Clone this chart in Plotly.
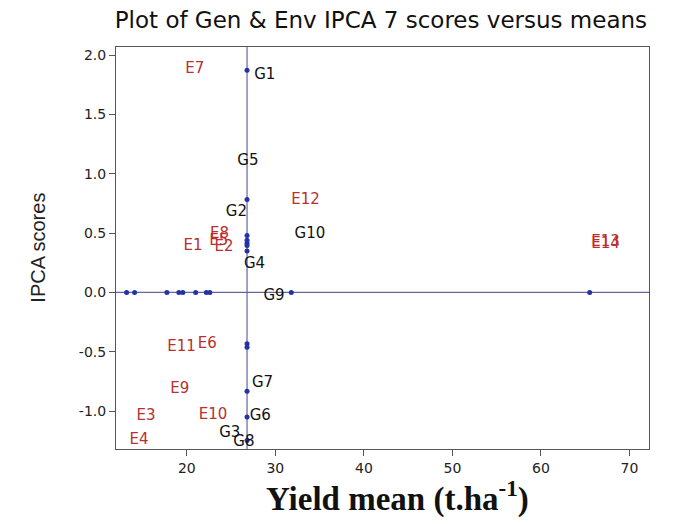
import plotly.graph_objects as go

# ---- data ----
grand_mean = 26.8

# dots on the vertical (grand mean) line: IPCA scores
vline_scores = [1.873, 0.785, 0.48, 0.44, 0.415, 0.397, 0.35, -0.433, -0.462, -0.833, -1.05, -1.249]
# dots on the horizontal (zero) line: yield means
hline_means = [13.2, 14.1, 17.75, 19.1, 19.55, 21.0, 22.2, 22.6, 31.8, 65.5]

gen_labels = ["G1", "G5", "G2", "G10", "G4", "G9", "G7", "G6", "G3", "G8"]
gen_x = [28.8, 26.9, 25.6, 33.9, 27.65, 29.85, 28.55, 28.3, 24.85, 26.45]
gen_y = [1.83, 1.108, 0.68, 0.49, 0.24, -0.034, -0.765, -1.046, -1.187, -1.26]

env_labels = ["E7", "E12", "E8", "E5", "E1", "E2", "E13", "E14", "E11", "E6", "E9", "E3", "E10", "E4"]
env_x = [20.9, 33.4, 23.7, 23.6, 20.7, 24.2, 67.3, 67.3, 19.4, 22.3, 19.2, 15.4, 22.95, 14.6]
env_y = [1.879, 0.78, 0.49, 0.433, 0.39, 0.384, 0.425, 0.405, -0.46, -0.433, -0.82, -1.046, -1.038, -1.249]

x_ticks = [20, 30, 40, 50, 60, 70]
x_ticktext = ["20", "30", "40", "50", "60", "70"]
y_ticks = [-1.0, -0.5, 0.0, 0.5, 1.0, 1.5, 2.0]
y_ticktext = ["-1.0", "-0.5", "0.0", "0.5", "1.0", "1.5", "2.0"]

title_text = "Plot of Gen & Env IPCA 7 scores versus means"
x_title = "Yield mean (t.ha<sup>-1</sup>)"
y_title = "IPCA scores"

# ---- figure ----
dot_color = "#2432a8"
line_color = "#6466a0"
env_color = "#b83030"

fig = go.Figure()

fig.add_trace(go.Scatter(
    x=[grand_mean] * len(vline_scores), y=vline_scores, mode="markers",
    marker=dict(color=dot_color, size=5), hoverinfo="skip", showlegend=False))
fig.add_trace(go.Scatter(
    x=hline_means, y=[0] * len(hline_means), mode="markers",
    marker=dict(color=dot_color, size=5), hoverinfo="skip", showlegend=False))

fig.add_trace(go.Scatter(
    x=gen_x, y=gen_y, mode="text", text=gen_labels,
    textfont=dict(family="DejaVu Sans", size=15, color="#111111"),
    showlegend=False))
fig.add_trace(go.Scatter(
    x=env_x, y=env_y, mode="text", text=env_labels,
    textfont=dict(family="DejaVu Sans", size=15, color=env_color),
    showlegend=False))

fig.add_shape(type="line", xref="x", yref="paper", x0=grand_mean, x1=grand_mean,
              y0=0, y1=1, line=dict(color=line_color, width=1.2), layer="below")
fig.add_shape(type="line", xref="paper", yref="y", x0=0, x1=1, y0=0, y1=0,
              line=dict(color=line_color, width=1.2), layer="below")

fig.add_annotation(text=x_title, xref="paper", yref="paper", x=0.529, y=-0.119,
                   yanchor="middle", xanchor="center", showarrow=False,
                   font=dict(family="Liberation Serif", size=33, color="#111111",
                             weight="bold"))
fig.add_annotation(text=y_title, xref="paper", yref="paper", x=-0.147, y=0.5,
                   xanchor="center", yanchor="middle", textangle=-90, showarrow=False,
                   font=dict(family="Liberation Sans", size=20, color="#222222"))

fig.update_layout(
    width=674, height=524,
    margin=dict(l=108, r=33, t=39, b=83, autoexpand=False),
    paper_bgcolor="white", plot_bgcolor="white",
    title=dict(text=title_text, x=0.497, xref="paper", xanchor="center",
               y=1 - 12 / 524, yref="container", yanchor="middle",
               font=dict(family="DejaVu Sans", size=23, color="#111111")),
    xaxis=dict(range=[12.0, 72.2], tickvals=x_ticks, ticktext=x_ticktext,
               showgrid=False, zeroline=False, showline=True, mirror=True,
               linecolor="#555555", linewidth=1, ticks="outside", ticklen=6,
               tickcolor="#555555", automargin=False,
               tickfont=dict(family="DejaVu Sans", size=14, color="#222222")),
    yaxis=dict(range=[-1.32, 2.07], tickvals=y_ticks, ticktext=y_ticktext,
               showgrid=False, zeroline=False, showline=True, mirror=True,
               linecolor="#555555", linewidth=1, ticks="outside", ticklen=6,
               tickcolor="#555555", automargin=False,
               tickfont=dict(family="DejaVu Sans", size=14, color="#222222")),
)

fig.write_html("out.html")
